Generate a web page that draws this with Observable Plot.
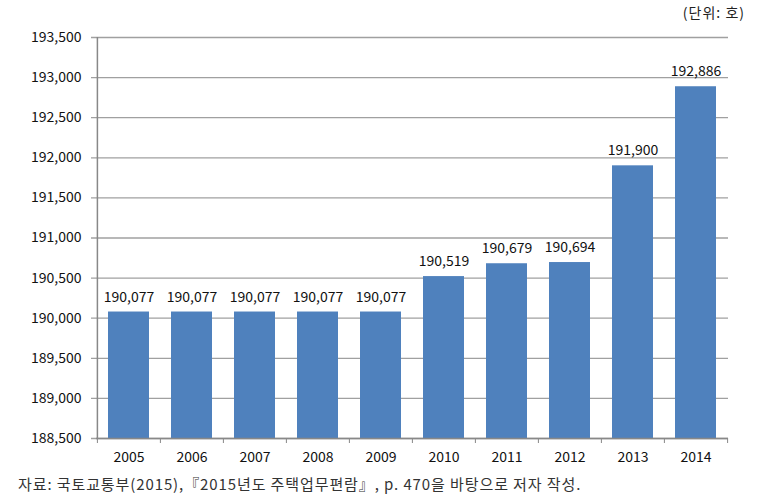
<!DOCTYPE html>
<html><head><meta charset="utf-8">
<script src="https://cdn.jsdelivr.net/npm/d3@7"></script>
<script src="https://cdn.jsdelivr.net/npm/@observablehq/plot@0.6"></script>
<style>
body{margin:0;background:#fff;font-family:"Noto Sans CJK KR","Noto Sans",sans-serif;}
#wrap{position:relative;width:763px;height:500px;}
#unit{position:absolute;right:18px;top:2px;font-size:14px;color:#222;letter-spacing:1px;}
#cap{position:absolute;left:18px;top:473px;font-size:15px;color:#333;letter-spacing:0.9px;white-space:nowrap;}
</style></head>
<body><div id="wrap"><div id="unit">(단위: 호)</div><div id="cap">자료: 국토교통부(2015),『2015년도 주택업무편람』, p. 470을 바탕으로 저자 작성.</div></div>
<script>
const years = ["2005","2006","2007","2008","2009","2010","2011","2012","2013","2014"];
const values = [190077,190077,190077,190077,190077,190519,190679,190694,191900,192886];
const yTicks = [188500,189000,189500,190000,190500,191000,191500,192000,192500,193000,193500];
const yMin = 188500, yMax = 193500;

const data = years.map((y,i)=>({year:y, value:values[i]}));
const W = 763, ML = 96, MR = 35;
const step = (W - ML - MR) / years.length;
const fmt = d3.format(",");

const chart = Plot.plot({
  width: W, height: 500,
  marginTop: 37, marginBottom: 62, marginLeft: ML, marginRight: MR,
  style: {fontFamily: '"Noto Sans CJK KR","Noto Sans",sans-serif', fontSize: "14px", color: "#111", background: "transparent"},
  x: {domain: years, paddingInner: 0.35, paddingOuter: 0.175, label: null},
  y: {domain: [yMin, yMax], label: null},
  marks: [
    Plot.ruleY(yTicks, {stroke: "#a0a0a0", strokeWidth: 1.3, insetLeft: -5}),
    Plot.barY(data, {x: "year", y1: yMin, y2: "value", fill: "#4F81BD"}),
    Plot.ruleX(years, {x: d => d, dx: -step/2, y1: yMin, y2: yMin, insetBottom: -5, stroke: "#888"}),
    Plot.ruleX([years[years.length-1]], {x: d => d, dx: step/2, y1: yMin, y2: yMin, insetBottom: -5, stroke: "#888"}),
    Plot.ruleX([years[0]], {x: d => d, dx: -step/2, stroke: "#888", strokeWidth: 1.5}),
    Plot.ruleY([yMin], {stroke: "#888", strokeWidth: 1.5}),
    Plot.axisY({ticks: yTicks, tickFormat: fmt, tickSize: 0, tickPadding: 15, fontSize: 14}),
    Plot.axisX({tickSize: 0, tickPadding: 14, fontSize: 14}),
    Plot.text(data, {x: "year", y: "value", text: d => fmt(d.value), dy: -15, fontSize: 14, fill: "#111"})
  ]
});
chart.style.position = "absolute";
chart.style.left = "0"; chart.style.top = "0";
document.getElementById("wrap").appendChild(chart);
</script></body></html>
